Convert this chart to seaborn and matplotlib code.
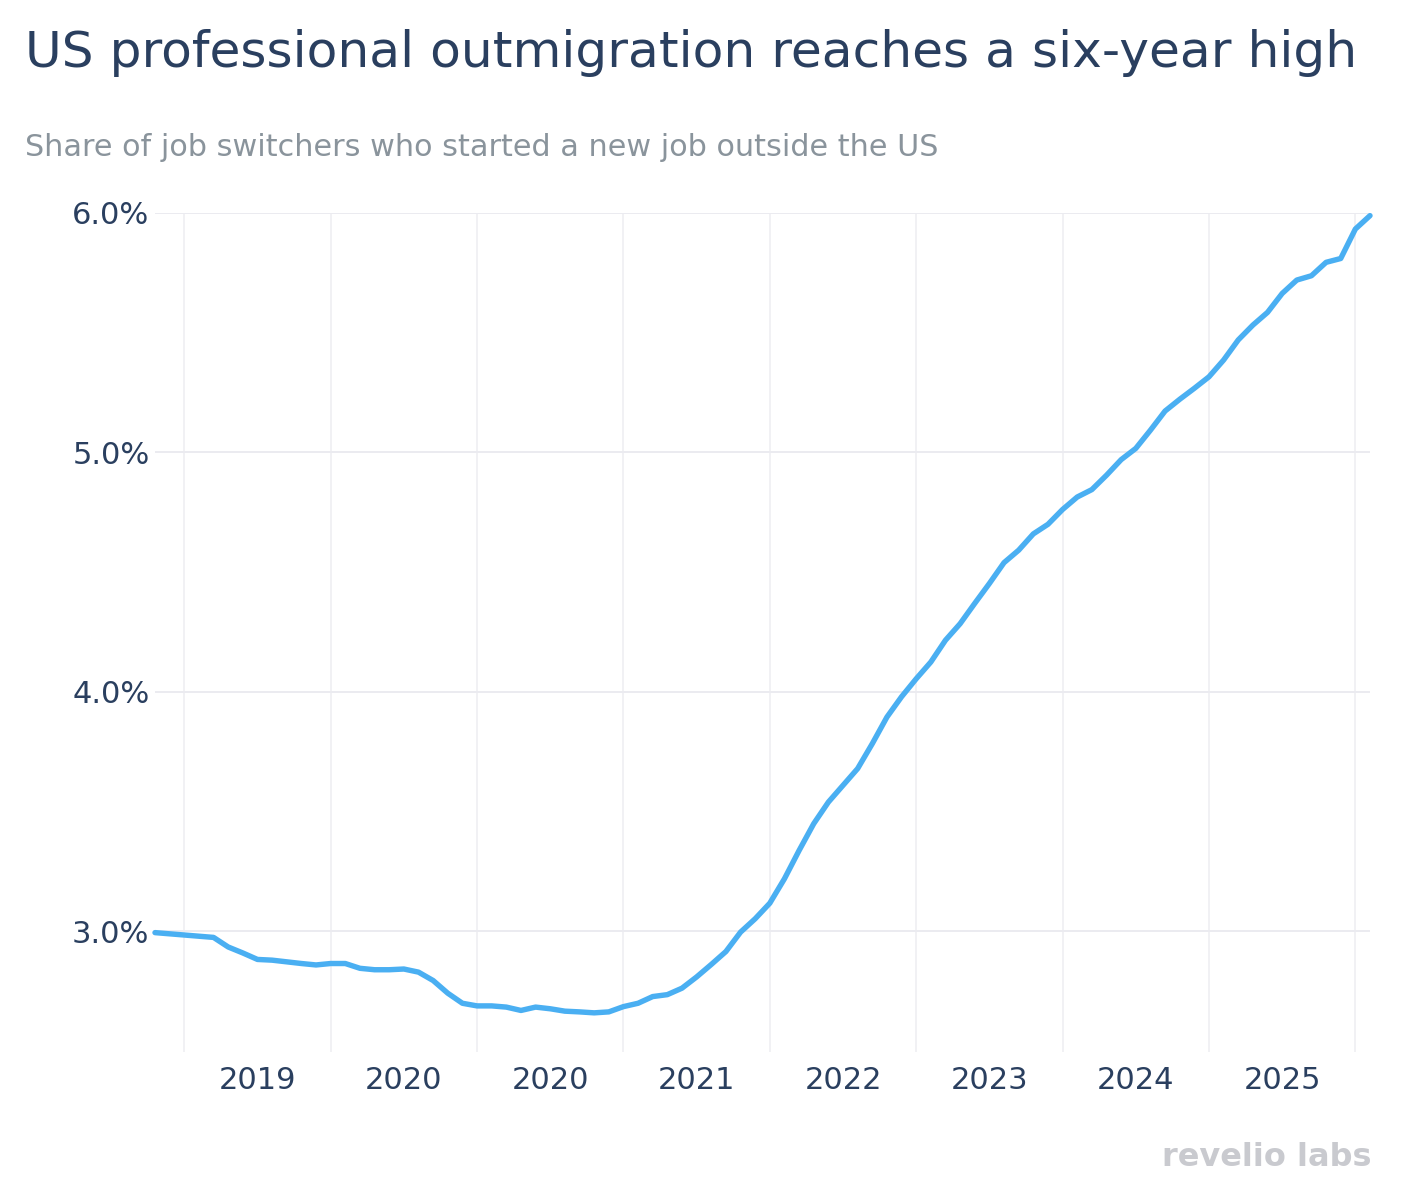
import numpy as np
import pandas as pd
import seaborn as sns
import matplotlib.pyplot as plt
from matplotlib.ticker import FixedLocator, NullFormatter, FuncFormatter

# monthly share of job switchers starting a job outside the US (%)
share = [2.995, 2.99, 2.985, 2.98, 2.975, 2.935, 2.91, 2.883, 2.88, 2.873,
         2.866, 2.86, 2.866, 2.866, 2.846, 2.84, 2.84, 2.843, 2.83, 2.795,
         2.742, 2.70, 2.689, 2.689, 2.684, 2.67, 2.684, 2.677, 2.667, 2.664,
         2.66, 2.664, 2.686, 2.70, 2.728, 2.736, 2.763, 2.81, 2.862, 2.916,
         2.997, 3.053, 3.118, 3.22, 3.338, 3.45, 3.54, 3.61, 3.68, 3.784,
         3.895, 3.98, 4.055, 4.125, 4.216, 4.285, 4.37, 4.453, 4.54, 4.592,
         4.66, 4.70, 4.762, 4.814, 4.845, 4.905, 4.97, 5.017, 5.093, 5.173,
         5.222, 5.268, 5.316, 5.386, 5.47, 5.532, 5.585, 5.664, 5.72, 5.738,
         5.794, 5.81, 5.933, 5.989]
month = list(range(len(share)))

grid_pos = [2, 12, 22, 32, 42, 52, 62, 72, 82]
label_pos = [7, 17, 27, 37, 47, 57, 67, 77]
year_labels = ['2019', '2020', '2020', '2021', '2022', '2023', '2024', '2025']
y_ticks = [3.0, 4.0, 5.0, 6.0]

df = pd.DataFrame({'month': month, 'share': share})

sns.set_style('white')
plt.rcParams['font.family'] = ['DejaVu Sans']

navy = '#2a3f5f'
fig = plt.figure(figsize=(14.1, 11.86), dpi=100)
ax = fig.add_axes([155 / 1410, 1 - 1052 / 1186, (1370 - 155) / 1410, (1052 - 213) / 1186])

sns.lineplot(data=df, x='month', y='share', ax=ax, color='#4aaff2', linewidth=3.9, clip_on=False)

ax.set_xlim(0, 83)
ax.set_ylim(2.4965, 6.0)

ax.xaxis.set_major_locator(FixedLocator(grid_pos))
ax.xaxis.set_major_formatter(NullFormatter())
ax.xaxis.set_minor_locator(FixedLocator(label_pos))
ax.set_xticklabels(year_labels, minor=True)
ax.yaxis.set_major_locator(FixedLocator(y_ticks))
ax.yaxis.set_major_formatter(FuncFormatter(lambda v, p: f'{v:.1f}%'))

ax.tick_params(axis='x', which='both', length=0, pad=10, labelsize=22, colors=navy)
ax.tick_params(axis='y', length=0, pad=4, labelsize=22, colors=navy)
ax.grid(True, axis='y', which='major', color='#ebebf0', linewidth=1.4)
ax.grid(True, axis='x', which='major', color='#f1f1f4', linewidth=1.4)
ax.set_axisbelow(True)
for s in ax.spines.values():
    s.set_visible(False)
ax.set_xlabel('')
ax.set_ylabel('')

fig.text(25 / 1410, 1 - 67 / 1186, 'US professional outmigration reaches a six-year high',
         fontsize=36.2, color=navy, ha='left', va='baseline')
fig.text(25 / 1410, 1 - 156 / 1186, 'Share of job switchers who started a new job outside the US',
         fontsize=21.8, color='#8a949c', ha='left', va='baseline')
fig.text(1372 / 1410, 1 - 1166 / 1186, 'revelio labs', fontsize=23, fontweight='bold',
         color='#c9cacf', ha='right', va='baseline')

plt.savefig('out.png', dpi=100)
